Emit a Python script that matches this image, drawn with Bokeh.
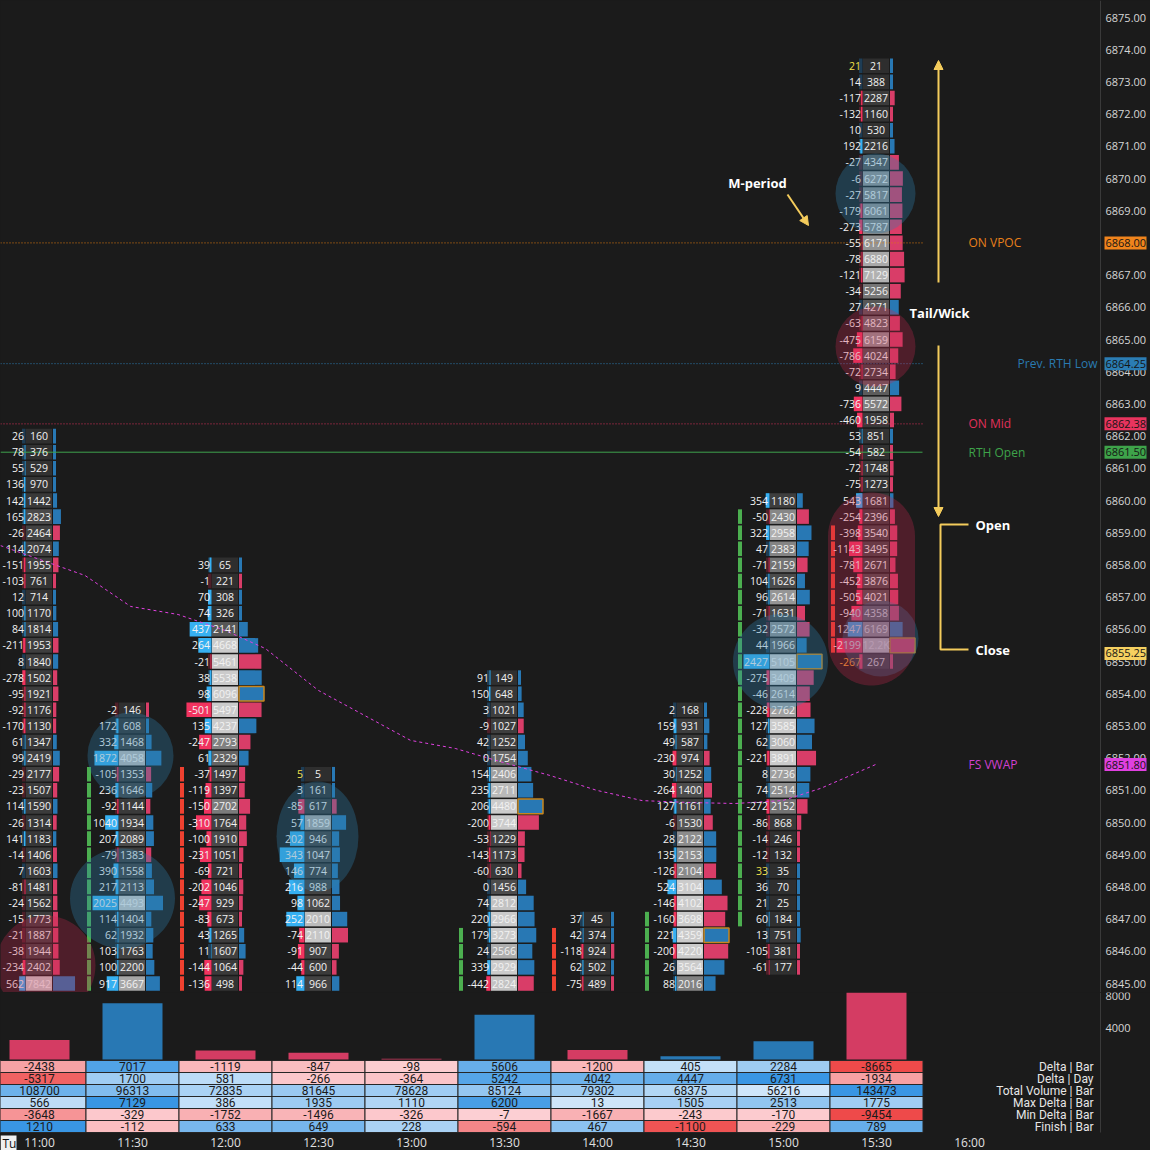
import numpy as np
from bokeh.plotting import figure
from bokeh.layouts import column
from bokeh.models import Range1d, Label, Arrow, NormalHead, ColumnDataSource
from bokeh.core.properties import value
from bokeh.embed import file_html
from bokeh.resources import INLINE

# ---------------- data ----------------
time_labels = ["11:00", "11:30", "12:00", "12:30", "13:00", "13:30", "14:00", "14:30", "15:00", "15:30", "16:00"]
price_ticks = list(range(6845, 6876))
vol_ticks = [4000, 8000]

top_1100 = 6862.0
delta_1100 = [26, 78, 55, 136, 142, 165, -26, 114, -151, -103, 12, 100, 84, -211, 8, -278, -95, -92, -170, 61,
              99, -29, -23, 114, -26, 141, -14, 7, -81, -24, -15, -21, -38, -234, 562]
vol_1100 = [160, 376, 529, 970, 1442, 2823, 2464, 2074, 1955, 761, 714, 1170, 1814, 1953, 1840, 1502, 1921, 1176,
            1130, 1347, 2419, 2177, 1507, 1590, 1314, 1183, 1406, 1603, 1481, 1562, 1773, 1887, 1944, 2402, 7842]

top_1130 = 6853.5
delta_1130 = [-2, 172, 332, 1872, -105, 236, -92, 1040, 207, -79, 390, 217, 2025, 114, 62, 103, 100, 917]
vol_1130 = [146, 608, 1468, 4058, 1353, 1646, 1144, 1934, 2089, 1383, 1558, 2113, 4493, 1404, 1932, 1763, 2200, 3667]

top_1200 = 6858.0
delta_1200 = [39, -1, 70, 74, 437, 264, -21, 38, 98, -501, 135, -247, 61, -37, -119, -150, -310, -100, -231, -69,
              -202, -247, -83, 43, 11, -144, -136]
vol_1200 = [65, 221, 308, 326, 2141, 4668, 5461, 5538, 6096, 5497, 4237, 2793, 2329, 1497, 1397, 2702, 1764, 1910,
            1051, 721, 1046, 929, 673, 1265, 1607, 1064, 498]

top_1230 = 6851.5
delta_1230 = [5, 3, -85, 57, 202, 343, 146, 216, 98, 252, -74, -91, -44, 114]
vol_1230 = [5, 161, 617, 1859, 946, 1047, 774, 988, 1062, 2010, 2110, 907, 600, 966]

top_1330 = 6854.5
delta_1330 = [91, 150, 3, -9, 42, 0, 154, 235, 206, -200, -53, -143, -60, 0, 74, 220, 179, 24, 339, -442]
vol_1330 = [149, 648, 1021, 1027, 1252, 1754, 2406, 2711, 4480, 3744, 1229, 1173, 630, 1456, 2812, 2966, 3273,
            2566, 2929, 2824]

top_1400 = 6847.0
delta_1400 = [37, 42, -118, 62, -75]
vol_1400 = [45, 374, 924, 502, 489]

top_1430 = 6853.5
delta_1430 = [2, 159, 49, -230, 30, -264, 127, -6, 28, 135, -126, 524, -146, -160, 221, -200, 26, 88]
vol_1430 = [168, 931, 587, 974, 1252, 1400, 1161, 1530, 2122, 2153, 2104, 3104, 4102, 3698, 4359, 4220, 3564, 2016]

top_1500 = 6860.0
delta_1500 = [354, -50, 322, 47, -71, 104, 96, -71, -32, 44, 2427, -275, -46, -228, 127, 62, -221, 8, 74, -272,
              -86, -14, -12, 33, 36, 21, 60, 13, -105, -61]
vol_1500 = [1180, 2430, 2958, 2383, 2159, 1626, 2614, 1631, 2572, 1966, 5105, 3409, 2614, 2762, 3585, 3060, 3891,
            2736, 2514, 2152, 868, 246, 132, 35, 70, 25, 184, 751, 381, 177]

top_1530 = 6873.5
delta_1530 = [21, 14, -117, -132, 10, 192, -27, -6, -27, -179, -273, -55, -78, -121, -34, 27, -63, -475, -786,
              -72, 9, -736, -460, 53, -54, -72, -75, 543, -254, -398, -1143, -781, -452, -505, -940, 1247, -2199, -267]
vol_1530 = [21, 388, 2287, 1160, 530, 2216, 4347, 6272, 5817, 6061, 5787, 6171, 6880, 7129, 5256, 4271, 4823, 6159,
            4024, 2734, 4447, 5572, 1958, 851, 582, 1748, 1273, 1681, 2396, 3540, 3495, 2671, 3876, 4021, 4358,
            6169, 12200, 267]

# per-bar scale of the profile / delta bars (bar maxima, partly below the visible range)
vol_scale = [8900, 6600, 6096, 3300, 1, 4480, 7000, 4359, 5105, 12200]
delta_scale = [2300, 2025, 520, 360, 1, 2700, 1500, 1505, 2427, 2199]
body_open = [None, 6844.0, 6851.5, None, None, 6844.0, 6846.5, 6844.0, 6847.0, 6859.0]
body_close = [None, 6851.5, 6844.0, None, None, 6846.5, 6844.0, 6847.0, 6859.5, 6855.5]

vwap_t = [-0.42, 0.49, 0.98, 1.49, 2.0, 2.43, 3.0, 3.99, 4.47, 4.99, 5.49, 5.99, 6.48, 7.0, 7.48, 7.99, 8.40, 8.99]
vwap_p = [6858.60, 6857.67, 6856.71, 6856.46, 6855.96, 6855.40, 6854.10, 6852.55, 6852.30, 6851.86, 6851.46,
          6851.00, 6850.68, 6850.62, 6850.59, 6850.68, 6851.06, 6851.80]

on_vpoc = 6868.00
prev_rth_low = 6864.25
on_mid = 6862.38
rth_open = 6861.50
last_price = 6855.25
fs_vwap = 6851.80

delta_bar = [-2438, 7017, -1119, -847, -98, 5606, -1200, 405, 2284, -8665]
delta_day = [-5317, 1700, 581, -266, -364, 5242, 4042, 4447, 6731, -1934]
total_volume = [108700, 96313, 72835, 81645, 78628, 85124, 79302, 68375, 56216, 143473]
max_delta = [566, 7129, 386, 1935, 1110, 6200, 13, 1505, 2513, 1775]
min_delta = [-3648, -329, -1752, -1496, -326, -7, -1667, -243, -170, -9454]
finish = [1210, -112, 633, 649, 228, -594, 467, -1100, -229, 789]
table_labels = ["Delta | Bar", "Delta | Day", "Total Volume | Bar", "Max Delta | Bar", "Min Delta | Bar", "Finish | Bar"]

# ---------------- layout helpers ----------------
TOTAL = 1150
H1 = 992
H2 = TOTAL - H1

BG = "#1b1b1b"
YEL = "#f4cc5c"
FONT = value("Open Sans")
PXX = 1 / 93.0
PXY = 1 / 32.2
VPX = 125.0            # volume units per reference px (lower panel)


def XR(xr):
    return (xr - 39) * PXX


def YR(yr):
    return 6875 - (yr - 17) * PXY


def VR(yr):
    return (1059 - yr) * VPX


def hexc(r, g, b):
    return "#%02x%02x%02x" % (int(r), int(g), int(b))


def gray(r):
    g = 46 + 22 * min(r / 0.3, 1) + 135 * min(max((r - 0.3) / 0.35, 0), 1)
    return hexc(g, g, g)


xr = Range1d(XR(0), XR(TOTAL))
p = figure(frame_width=TOTAL, frame_height=H1, x_range=xr, y_range=Range1d(YR(H1), YR(0)),
           output_backend="svg", toolbar_location=None, x_axis_location=None, y_axis_location=None,
           min_border_left=0, min_border_right=0, min_border_top=0, min_border_bottom=0,
           background_fill_color=BG, border_fill_color=BG, outline_line_color=None,
           styles={"background-color": BG})
p.grid.visible = False

cols = [(0, top_1100, delta_1100, vol_1100), (1, top_1130, delta_1130, vol_1130),
        (2, top_1200, delta_1200, vol_1200), (3, top_1230, delta_1230, vol_1230),
        (5, top_1330, delta_1330, vol_1330), (6, top_1400, delta_1400, vol_1400),
        (7, top_1430, delta_1430, vol_1430), (8, top_1500, delta_1500, vol_1500),
        (9, top_1530, delta_1530, vol_1530)]
marked = {(3, 6851.5): "#f2e04a", (8, 6848.5): "#f2e04a", (9, 6873.5): "#f2e04a", (9, 6855.0): "#f0a030"}

HH = 0.226
strip = dict(l=[], r=[], t=[], b=[], c=[])
dark = dict(l=[], r=[], t=[], b=[], c=[])
bright = dict(l=[], r=[], t=[], b=[], c=[])
box = dict(l=[], r=[], t=[], b=[], c=[])
prof = dict(l=[], r=[], t=[], b=[], c=[])
poc = dict(l=[], r=[], t=[], b=[])
dtxt = dict(x=[], y=[], s=[], c=[])
vtxt = dict(x=[], y=[], s=[])

for slot, top, ds, vs in cols:
    L = slot - 0.5
    vmax = vol_scale[slot]
    dmax = delta_scale[slot]
    has_poc = max(vs) >= vmax
    o, c = body_open[slot], body_close[slot]
    for k, (d, v) in enumerate(zip(ds, vs)):
        pr = top - 0.5 * k
        t, b = pr + HH, pr - HH
        if o is not None and min(o, c) <= pr <= max(o, c):
            strip["l"].append(L + 1 * PXX); strip["r"].append(L + 5 * PXX)
            strip["t"].append(t); strip["b"].append(b)
            strip["c"].append("#4caf50" if c > o else "#ef4130")
        dark["l"].append(L + 29 * PXX); dark["r"].append(L + 32.5 * PXX)
        dark["t"].append(t); dark["b"].append(b)
        dark["c"].append("#1e3d55" if d >= 0 else "#4d1f29")
        w = min(1.0, abs(d) / dmax) * 26
        if w > 0.5:
            bright["l"].append(L + (32.5 - w) * PXX); bright["r"].append(L + 32.5 * PXX)
            bright["t"].append(t); bright["b"].append(b)
            bright["c"].append("#36b0f2" if d >= 0 else "#f2335f")
        box["l"].append(L + 33 * PXX); box["r"].append(L + 59 * PXX)
        box["t"].append(t); box["b"].append(b); box["c"].append(gray(v / vmax))
        pw = max(3.0, v / vmax * 25)
        prof["l"].append(L + 60 * PXX); prof["r"].append(L + (60 + pw) * PXX)
        prof["t"].append(t); prof["b"].append(b)
        prof["c"].append("#2878b4" if d >= 0 else "#d93d68")
        if has_poc and v == max(vs):
            poc["l"].append(L + 60 * PXX); poc["r"].append(L + (60 + pw) * PXX)
            poc["t"].append(t); poc["b"].append(b)
        dtxt["x"].append(L + 31 * PXX); dtxt["y"].append(pr); dtxt["s"].append(str(d))
        dtxt["c"].append(marked.get((slot, pr), "#f2f2f2"))
        vtxt["x"].append(L + 46 * PXX); vtxt["y"].append(pr)
        vtxt["s"].append("%.1fK" % (v / 1000.0) if v >= 10000 else str(v))

for dd in (strip, dark, bright, box, prof):
    p.quad(left="l", right="r", top="t", bottom="b", fill_color="c", line_color=None,
           source=ColumnDataSource(dd))
p.quad(left="l", right="r", top="t", bottom="b", fill_color=None, line_color="#c8861e",
       line_width=1.5, source=ColumnDataSource(poc))

# level lines
x0, x1 = XR(0), XR(922)
p.segment(x0=[x0], y0=[on_vpoc], x1=[x1], y1=[on_vpoc], line_color="#e07a10", line_dash="1 2", line_width=1)
p.segment(x0=[x0], y0=[prev_rth_low], x1=[x1], y1=[prev_rth_low], line_color="#2a7ab0", line_dash="1 2", line_width=1)
p.segment(x0=[x0], y0=[on_mid], x1=[x1], y1=[on_mid], line_color="#d8305a", line_dash="1 2", line_width=1)
p.segment(x0=[x0], y0=[rth_open], x1=[x1], y1=[rth_open], line_color="#3fa34d", line_width=1)

p.line(vwap_t, vwap_p, line_color="#e040e0", line_dash="3 3", line_width=1)

p.text(x="x", y="y", text="s", text_color="c", source=ColumnDataSource(dtxt), text_font=FONT,
       text_font_size="10.5px", text_align="right", text_baseline="middle")
p.text(x="x", y="y", text="s", text_color="#f2f2f2", source=ColumnDataSource(vtxt), text_font=FONT,
       text_font_size="10.5px", text_align="center", text_baseline="middle")

# highlight circles
BLUE_C, RED_C = "#2f7fae", "#c8284f"
for cx, cy, w, h in [(130, 755, 86, 86), (122, 898, 105, 100), (317, 836, 82, 110),
                     (780, 661, 95, 95), (875, 193, 80, 80), (880, 638, 76, 76)]:
    p.ellipse(x=[XR(cx)], y=[YR(cy)], width=[w * PXX], height=[h * PXY], fill_color=BLUE_C,
              fill_alpha=0.33, line_color=None)
for cx, cy, w, h in [(45, 965, 100, 100), (875, 346, 80, 80)]:
    p.ellipse(x=[XR(cx)], y=[YR(cy)], width=[w * PXX], height=[h * PXY], fill_color=RED_C,
              fill_alpha=0.3, line_color=None)
r = 43.5
cxs = 871
th1 = np.linspace(0, np.pi, 30)
th2 = np.linspace(np.pi, 2 * np.pi, 30)
sx = np.concatenate([cxs + r * np.cos(th1), cxs + r * np.cos(th2)])
sy = np.concatenate([(492 + r) - r * np.sin(th1), (685 - r) - r * np.sin(th2)])
p.patch([XR(v) for v in sx], [YR(v) for v in sy], fill_color=RED_C, fill_alpha=0.3, line_color=None)


def lab(fig, x, y, text, color, size="12px", align="left", bold=False):
    fig.add_layout(Label(x=x, y=y, text=text, text_color=color, text_font_size=size,
                         text_font="Open Sans", text_align=align, text_baseline="middle",
                         text_font_style="bold" if bold else "normal"))


lab(p, XR(968), on_vpoc, "ON VPOC", "#e8801a")
lab(p, XR(1097), prev_rth_low, "Prev. RTH Low", "#2a7ab0", align="right")
lab(p, XR(968), on_mid, "ON Mid", "#e0305a")
lab(p, XR(968), rth_open, "RTH Open", "#3ea34a")
lab(p, XR(968), fs_vwap, "FS VWAP", "#d040d0")

# right price scale (drawn in the frame)
p.segment(x0=[XR(1100)], y0=[YR(0)], x1=[XR(1100)], y1=[YR(H1)], line_color="#3a3a3a", line_width=1)
p.text(x=[XR(1105)] * len(price_ticks), y=price_ticks, text=["%.2f" % v for v in price_ticks],
       text_color="#d6d6d6", text_font=FONT, text_font_size="11px", text_align="left",
       text_baseline="middle")
lv_vals = [on_vpoc, prev_rth_low, on_mid, rth_open, last_price, fs_vwap]
lv_cols = ["#f0841c", "#2b7db4", "#e8345e", "#3ea34a", "#f5d060", "#e040e0"]
p.quad(left=[XR(1104)] * 6, right=[XR(1146)] * 6, top=[v + 6.5 * PXY for v in lv_vals],
       bottom=[v - 6.5 * PXY for v in lv_vals], fill_color=lv_cols, line_color=None)
p.text(x=[XR(1105)] * 6, y=lv_vals, text=["%.2f" % v for v in lv_vals], text_color="#151515",
       text_font=FONT, text_font_size="11px", text_align="left", text_baseline="middle")

# annotations
lab(p, XR(757), YR(182), "M-period", "#ffffff", size="13px", align="center", bold=True)
lab(p, XR(939), YR(312), "Tail/Wick", "#ffffff", size="13px", align="center", bold=True)
lab(p, XR(975), YR(524), "Open", "#ffffff", size="13px", bold=True)
lab(p, XR(975), YR(649), "Close", "#ffffff", size="13px", bold=True)

for xs_, ys_, xe_, ye_ in [(938, 282, 938, 60), (938, 345, 938, 516), (787, 194, 808, 225)]:
    p.add_layout(Arrow(end=NormalHead(size=9, fill_color=YEL, line_color=YEL),
                       x_start=XR(xs_), y_start=YR(ys_), x_end=XR(xe_), y_end=YR(ye_),
                       line_color=YEL, line_width=2))
p.line([XR(968), XR(940), XR(940), XR(968)], [YR(524), YR(524), YR(649), YR(649)],
       line_color=YEL, line_width=2)

# ---------------- lower panel: delta bars + table + time scale ----------------
p2 = figure(frame_width=TOTAL, frame_height=H2, x_range=xr, y_range=Range1d(VR(TOTAL), VR(H1)),
            output_backend="svg", toolbar_location=None, x_axis_location=None, y_axis_location=None,
            min_border_left=0, min_border_right=0, min_border_top=0, min_border_bottom=0,
            background_fill_color=BG, border_fill_color=BG, outline_line_color=None,
            styles={"background-color": BG})
p2.grid.visible = False

slots = list(range(10))
p2.vbar(x=slots, width=60 * PXX, bottom=0, top=[abs(v) for v in delta_bar],
        fill_color=["#2878b4" if v >= 0 else "#d43c63" for v in delta_bar], line_color=None)


def cell_color(v, m, lo=0.0):
    t = min(max((abs(v) - lo) / (m - lo), 0), 1) ** 0.85
    if v >= 0:
        c0, c1 = (207, 230, 250), (57, 150, 228)
    else:
        c0, c1 = (253, 208, 212), (238, 74, 74)
    return hexc(*[a + (b_ - a) * t for a, b_ in zip(c0, c1)])


rows = [delta_bar, delta_day, total_volume, max_delta, min_delta, finish]
cq = dict(l=[], r=[], t=[], b=[], c=[])
ct = dict(x=[], y=[], s=[])
for j, row in enumerate(rows):
    m = max(abs(v) for v in row)
    lo = min(row) if j == 2 else 0.0
    for i, v in enumerate(row):
        cq["l"].append(i - 0.5); cq["r"].append(i + 0.5)
        cq["t"].append(VR(1060 + 12 * j)); cq["b"].append(VR(1072 + 12 * j))
        cq["c"].append(cell_color(v, m, lo))
        ct["x"].append(i); ct["y"].append(VR(1066 + 12 * j)); ct["s"].append(str(v))
p2.quad(left="l", right="r", top="t", bottom="b", fill_color="c", line_color="#262626", line_width=1,
        source=ColumnDataSource(cq))
p2.text(x="x", y="y", text="s", source=ColumnDataSource(ct), text_color="#1a1a1a",
        text_font=value("Roboto"), text_font_size="12px", text_align="center", text_baseline="middle")
p2.text(x=[XR(1093)] * 6, y=[VR(1066 + 12 * j) for j in range(6)], text=table_labels,
        text_color="#e6e6e6", text_font=value("Roboto"), text_font_size="12px",
        text_align="right", text_baseline="middle")

# right scale of the lower panel
p2.segment(x0=[XR(1100)], y0=[VR(H1)], x1=[XR(1100)], y1=[VR(1132)], line_color="#3a3a3a", line_width=1)
p2.text(x=[XR(1105)] * 2, y=vol_ticks, text=[str(v) for v in vol_ticks], text_color="#d6d6d6",
        text_font=FONT, text_font_size="11px", text_align="left", text_baseline="middle")

# time scale
p2.text(x=list(range(len(time_labels))), y=[VR(1142)] * len(time_labels), text=time_labels,
        text_color="#e0e0e0", text_font=FONT, text_font_size="12px", text_align="center",
        text_baseline="middle")
p2.quad(left=[XR(0)], right=[XR(16)], top=[VR(1135)], bottom=[VR(1150)], fill_color="#f0f0f0",
        line_color=None)
p2.text(x=[XR(2)], y=[VR(1142.5)], text=["Tu"], text_color="#111111", text_font=FONT,
        text_font_size="12px", text_align="left", text_baseline="middle")

page = column(p, p2, spacing=0, styles={"background-color": BG})
open("out.html", "w").write(file_html(page, INLINE))
